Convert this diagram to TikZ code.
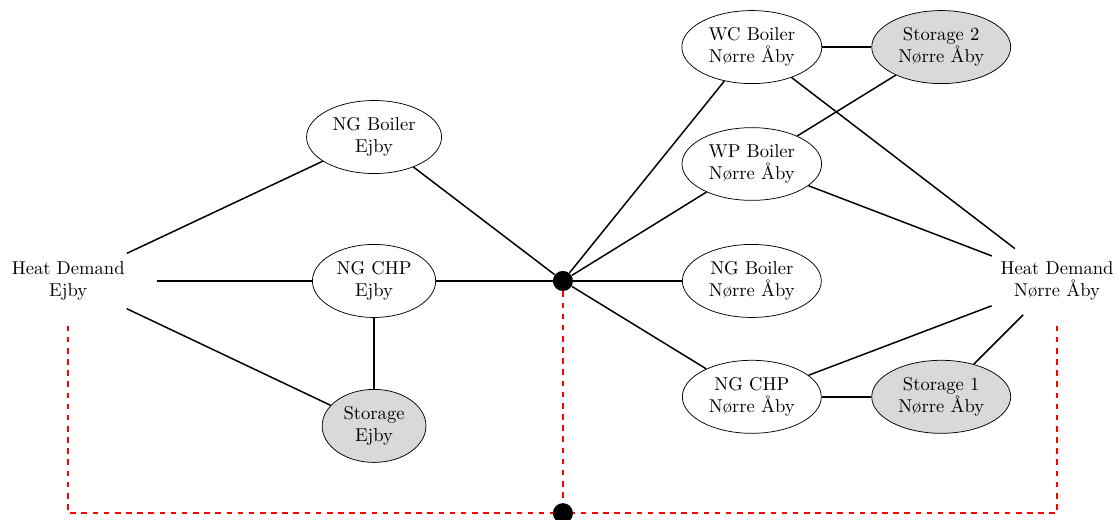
\documentclass[tikz,border=0pt]{standalone}
\usepackage{fontspec}
\usepackage{tikz}
\usetikzlibrary{shapes.geometric}

\begin{document}
\begin{tikzpicture}[
            unit node/.style={ellipse,draw,align=center},
            storage node/.style={ellipse,draw,fill=gray!30,align=center},
            demand node/.style={ellipse,align=center},
            hub node/.style={circle,fill=black,minimum size=0.38cm,inner sep=0pt},
            link/.style={thick},
            trade/.style={thick,dashed,red},
            ]
            \useasboundingbox (-10.64,-4.50) rectangle (10.51,5.31);

            \node[hub node] (hub) at (0,0) {};
            \node[hub node] (bottom) at (0,-4.39) {};

            \node[demand node] (hdE) at (-9.35,0) {Heat Demand\\Ejby};
            \node[unit node] (ngbE) at (-3.57,2.72) {NG Boiler\\Ejby};
            \node[unit node] (ngchpE) at (-3.57,0) {NG CHP\\Ejby};
            \node[storage node] (stE) at (-3.57,-2.74) {Storage\\Ejby};

            \node[unit node] (wcbN) at (3.57,4.42) {WC Boiler\\Nørre Åby};
            \node[storage node] (st2N) at (7.15,4.42) {Storage 2\\Nørre Åby};
            \node[unit node] (wpbN) at (3.57,2.21) {WP Boiler\\Nørre Åby};
            \node[unit node] (ngbN) at (3.57,0) {NG Boiler\\Nørre Åby};
            \node[unit node] (ngchpN) at (3.57,-2.19) {NG CHP\\Nørre Åby};
            \node[storage node] (st1N) at (7.15,-2.19) {Storage 1\\Nørre Åby};
            \node[demand node] (hdN) at (9.34,0) {Heat Demand\\Nørre Åby};

            \draw[link] (hdE) -- (ngbE);
            \draw[link] (hdE) -- (ngchpE);
            \draw[link] (hdE) -- (stE);
            \draw[link] (ngchpE) -- (stE);
            \draw[link] (ngbE) -- (hub);
            \draw[link] (ngchpE) -- (hub);
            \draw[link] (hub) -- (wcbN);
            \draw[link] (hub) -- (wpbN);
            \draw[link] (hub) -- (ngbN);
            \draw[link] (hub) -- (ngchpN);
            \draw[link] (wcbN) -- (st2N);
            \draw[link] (wcbN) -- (hdN);
            \draw[link] (st2N) -- (wpbN);
            \draw[link] (wpbN) -- (hdN);
            \draw[link] (ngchpN) -- (hdN);
            \draw[link] (ngchpN) -- (st1N);
            \draw[link] (st1N) -- (hdN);

            \draw[trade,shorten <=0.15cm] (hdE) |- (bottom);
            \draw[trade,shorten <=0.15cm] (hdN) |- (bottom);
            \draw[trade] (hub) -- (bottom);
        \end{tikzpicture}
\end{document}
